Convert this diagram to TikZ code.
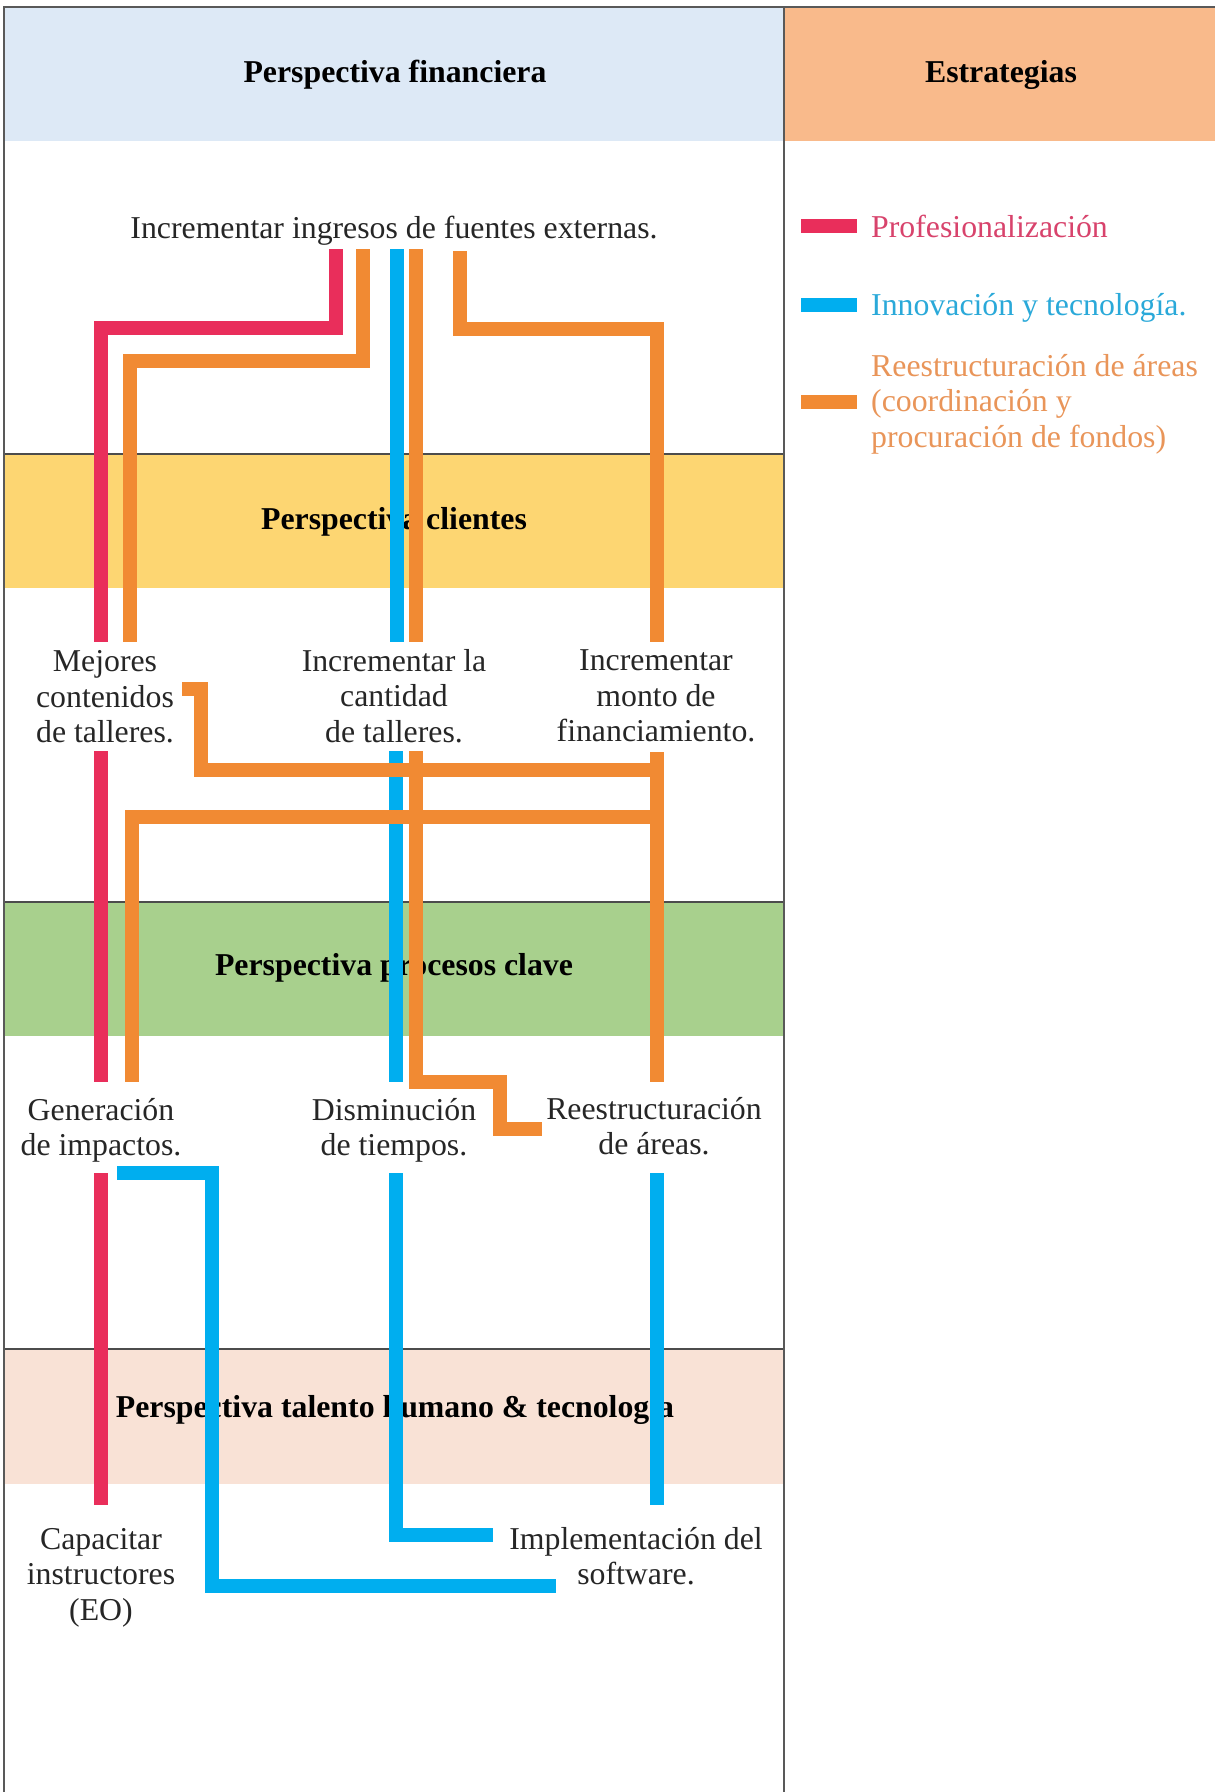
\documentclass[tikz,border=0pt]{standalone}
\usepackage{fontspec}
\setmainfont{Liberation Serif}
\definecolor{hdrblue}{HTML}{DDE9F6}
\definecolor{hdrorange}{HTML}{F9BA8B}
\definecolor{yband}{HTML}{FDD672}
\definecolor{gband}{HTML}{A8D08D}
\definecolor{pband}{HTML}{F9E2D6}
\definecolor{cRed}{HTML}{E92E5B}
\definecolor{cBlue}{HTML}{00AEEF}
\definecolor{cOrange}{HTML}{F18A33}
\definecolor{tRed}{HTML}{D8436C}
\definecolor{tBlue}{HTML}{2AA9D9}
\definecolor{tOrange}{HTML}{E99559}
\begin{document}
\begin{tikzpicture}[x=1pt,y=-1pt,
  lbl/.style={font=\fontsize{31.8}{35.4}\selectfont, inner sep=0pt, align=center, text=black!85},
  hdr/.style={font=\fontsize{31.8}{35.4}\selectfont\bfseries, inner sep=0pt},
  leg/.style={font=\fontsize{31.8}{35.4}\selectfont, inner sep=0pt, align=left, anchor=west},
  conn/.style={line width=14pt, line cap=butt, line join=miter},
  pro/.style={conn, draw=cRed},
  inn/.style={conn, draw=cBlue},
  ree/.style={conn, draw=cOrange},
  sep/.style={draw=black!70, line width=1.5pt},
  frame/.style={draw=black!65, line width=2pt}]
\useasboundingbox (0,0) rectangle (1215,1792);
\fill[white] (0,0) rectangle (1215,1792);
% bands
\fill[hdrblue] (4,7) rectangle (784,141);
\fill[hdrorange] (784,7) rectangle (1215,141);
\fill[yband] (4,454) rectangle (784,588);
\fill[gband] (4,902) rectangle (784,1036);
\fill[pband] (4,1349) rectangle (784,1484);
\draw[sep] (4,454) -- (784,454);
\draw[sep] (4,902) -- (784,902);
\draw[sep] (4,1349) -- (784,1349);
\draw[frame] (3.5,1792) -- (3.5,7) -- (1215,7);
\draw[frame] (784,7) -- (784,1792);
% headers
\node[hdr] (hfin) at (395,74.5) {Perspectiva financiera};
\node[hdr] (hest) at (1001,74.5) {Estrategias};
\node[hdr] (hcli) at (394,521.5) {Perspectiva clientes};
\node[hdr] (hpro) at (394,967.5) {Perspectiva procesos clave};
\node[hdr] (htal) at (395,1409.5) {Perspectiva talento humano \& tecnología};
% objectives
\node[lbl] (ing) at (394,230.5) {Incrementar ingresos de fuentes externas.};
\node[lbl] (mej) at (105,697) {Mejores\\contenidos\\de talleres.};
\node[lbl] (cant) at (394,696) {Incrementar la\\cantidad\\de talleres.};
\node[lbl] (mon) at (656,696) {Incrementar\\monto de\\financiamiento.};
\node[lbl] (gen) at (101,1130.5) {Generación\\de impactos.};
\node[lbl] (dis) at (394,1130.5) {Disminución\\de tiempos.};
\node[lbl] (res) at (654,1126) {Reestructuración\\de áreas.};
\node[lbl] (cap) at (101,1577.5) {Capacitar\\instructores\\(EO)};
\node[lbl] (imp) at (636,1556) {Implementación del\\software.};
% legend
\coordinate (l1a) at (801,226); \coordinate (l1b) at (857,226);
\coordinate (l2a) at (801,305); \coordinate (l2b) at (857,305);
\coordinate (l3a) at (801,402); \coordinate (l3b) at (857,402);
\draw[pro] (l1a) -- (l1b);
\draw[inn] (l2a) -- (l2b);
\draw[ree] (l3a) -- (l3b);
\node[leg, text=tRed] (lt1) at (871,226) {Profesionalización};
\node[leg, text=tBlue] (lt2) at (871,308) {Innovación y tecnología.};
\node[leg, text=tOrange] (lt3) at (871,404) {Reestructuración de áreas\\(coordinación y\\procuración de fondos)};
% endpoints
\coordinate (ingR) at (336,249);
\coordinate (ingA) at (363,249);
\coordinate (ingB) at (397,249);
\coordinate (ingO) at (416,249);
\coordinate (ingC) at (460,251);
\coordinate (mejR) at (101,642);
\coordinate (mejO) at (130,642);
\coordinate (cantB) at (397,642);
\coordinate (cantO) at (416,642);
\coordinate (monO) at (657,642);
\coordinate (mejRb) at (101,751);
\coordinate (mejS) at (182,689);
\coordinate (cantBb) at (396,751);
\coordinate (cantOb) at (416,751);
\coordinate (monOb) at (657,752);
\coordinate (genR) at (101,1082);
\coordinate (genO) at (132,1082);
\coordinate (disB) at (396,1082);
\coordinate (resO) at (657,1082);
\coordinate (resZ) at (542,1129);
\coordinate (genRb) at (101,1173);
\coordinate (genB) at (117,1173);
\coordinate (disBb) at (396,1173);
\coordinate (resBb) at (657,1173);
\coordinate (capR) at (101,1505);
\coordinate (impB1) at (493,1535);
\coordinate (impB2) at (556,1586);
\coordinate (impB3) at (657,1505);
% financiera -> clientes
\draw[pro] (ingR) -- (336,328) -- (101,328) -- (mejR);
\draw[ree] (ingA) -- (363,361) -- (130,361) -- (mejO);
\draw[inn] (ingB) -- (cantB);
\draw[ree] (ingO) -- (cantO);
\draw[ree] (ingC) -- (460,329) -- (657,329) -- (monO);
% clientes -> procesos
\draw[pro] (mejRb) -- (genR);
\draw[inn] (cantBb) -- (disB);
\draw[ree] (monOb) -- (resO);
\draw[ree] (cantOb) -- (416,1082) -- (500,1082) -- (500,1129) -- (resZ);
\draw[ree] (mejS) -- (200.5,689) -- (200.5,770) -- (657,770);
\draw[ree] (657,817) -- (132,817) -- (genO);
% procesos -> talento
\draw[pro] (genRb) -- (capR);
\draw[inn] (genB) -- (211.5,1173) -- (211.5,1586) -- (impB2);
\draw[inn] (disBb) -- (396,1535) -- (impB1);
\draw[inn] (resBb) -- (impB3);
\end{tikzpicture}
\end{document}
